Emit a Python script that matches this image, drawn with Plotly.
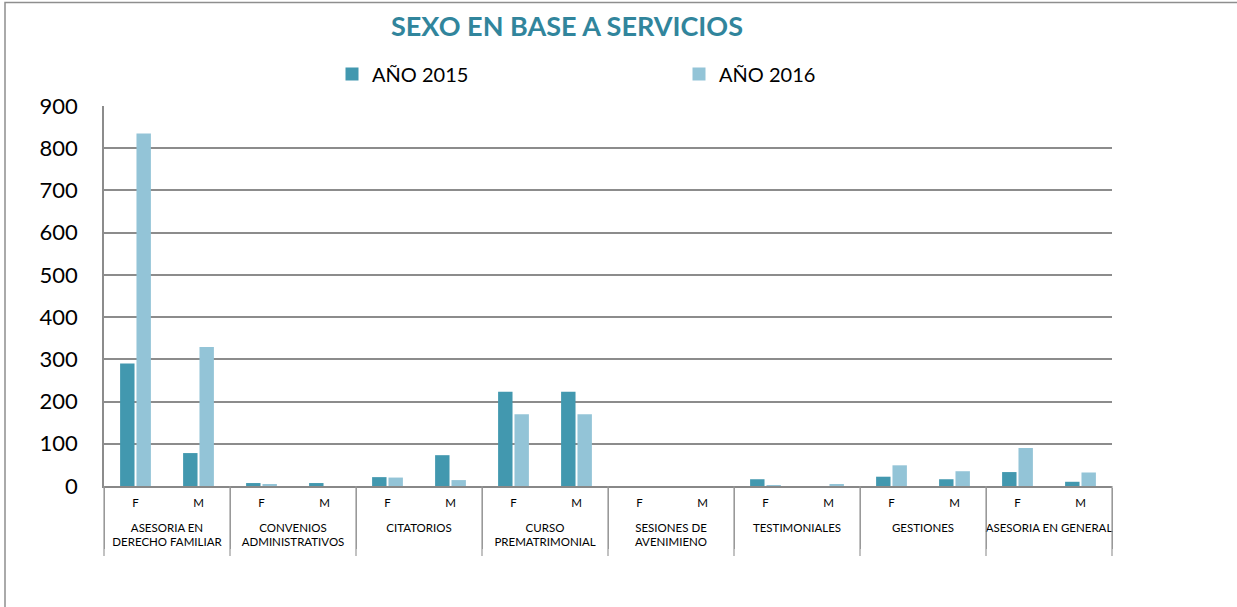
import plotly.graph_objects as go

groups = ["ASESORIA EN<br>DERECHO FAMILIAR", "CONVENIOS<br>ADMINISTRATIVOS", "CITATORIOS",
          "CURSO<br>PREMATRIMONIAL", "SESIONES DE<br>AVENIMIENO", "TESTIMONIALES",
          "GESTIONES", "ASESORIA EN GENERAL"]
sexes = ["F", "M"]
series_names = ["AÑO 2015", "AÑO 2016"]
y2015 = [290, 78, 7, 7, 21, 73, 223, 223, 0, 0, 16, 0, 22, 16, 33, 10]
y2016 = [835, 329, 3, 0, 20, 14, 170, 170, 0, 0, 2, 3, 49, 35, 90, 32]

xg = [" <br>" + g for g in groups for _ in sexes]
xs = [s for _ in groups for s in sexes]

FONT = "Lato, Open Sans, sans-serif"
colors = ["#4298AF", "#93C4D7"]

fig = go.Figure()
for name, vals, col in zip(series_names, [y2015, y2016], colors):
    fig.add_trace(go.Bar(x=[xg, xs], y=vals, name=name, showlegend=False,
                         marker=dict(color=col, line=dict(width=0))))
for name, col in zip(series_names, colors):
    fig.add_trace(go.Scatter(x=[[xg[0]], [xs[0]]], y=[None], mode="markers", name=name,
                             marker=dict(symbol="square", size=13, color=col), hoverinfo="skip"))

W, H = 1237, 607
ml, mr, mt, mb = 104, 125, 106, 121
pw, ph = W - ml - mr, H - mt - mb
ncat = len(xs)

shapes = [dict(type="rect", xref="paper", yref="paper",
               x0=(5 - ml) / pw, x1=(W + 20 - ml) / pw,
               y0=-(H + 20 - mt - ph) / ph, y1=1 + (mt - 2.5) / ph,
               line=dict(color="#8E8E8E", width=1.5), layer="below")]
ng = len(groups)
for k in range(ng + 1):
    shapes.append(dict(type="line", xref="paper", yref="paper", x0=k / ng, x1=k / ng,
                       y0=0, y1=-(556 - 486) / ph, line=dict(color="#999999", width=1.2)))

fig.update_layout(
    width=W, height=H,
    margin=dict(l=ml, r=mr, t=mt, b=mb),
    paper_bgcolor="white", plot_bgcolor="white",
    font=dict(family=FONT, color="black"),
    title=dict(text="<b>SEXO EN BASE A SERVICIOS</b>", x=(567 - ml) / pw, xref="paper", xanchor="center",
               y=1 - 27 / H, yanchor="middle", font=dict(size=27, color="#31859C", family=FONT)),
    barmode="group", bargap=0.48, bargroupgap=0.12,
    showlegend=True,
    legend=dict(orientation="h", x=(332 - ml) / pw, xanchor="left", y=1 + (106 - 74) / ph, yanchor="middle",
                entrywidth=302, entrywidthmode="pixels", font=dict(size=20, family=FONT),
                itemwidth=30, traceorder="normal"),
    xaxis=dict(type="multicategory", range=[-0.5, ncat - 0.5], showline=True, linecolor="#888888",
               linewidth=1.5, tickfont=dict(size=11.5, family=FONT), showdividers=True,
               dividercolor="#999999", dividerwidth=1.2, ticks="", showgrid=False, ticklabelstandoff=5),
    yaxis=dict(range=[0, 900], dtick=100, showgrid=True, gridcolor="#8C8C8C", gridwidth=1.5,
               showline=True, linecolor="#8C8C8C", linewidth=1.5, zeroline=False,
               tickfont=dict(size=22, family=FONT), ticks="", ticklabelstandoff=20),
    shapes=shapes,
)

fig.write_html("out.html", post_script="document.body.style.margin='0';",
               config={"displayModeBar": False})
